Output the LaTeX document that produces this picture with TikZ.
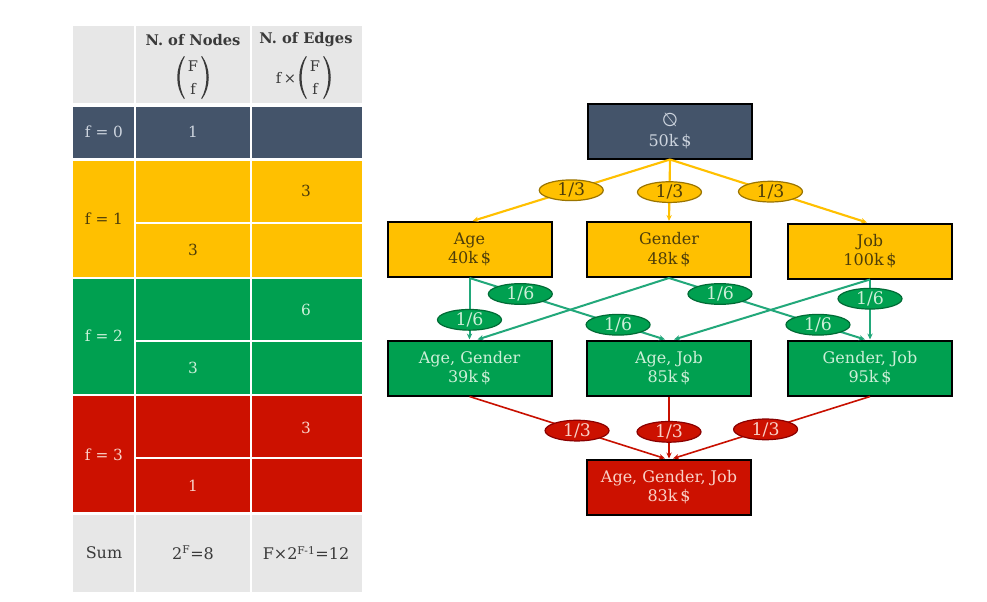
\documentclass[tikz,border=0pt]{standalone}
\usepackage{fontspec}
\usepackage{graphicx}
\setmainfont{DejaVu Serif}
\newfontfamily\symfont{DejaVu Sans}
\usetikzlibrary{shapes.geometric,arrows.meta,calc}
\definecolor{slate}{HTML}{44546A}
\definecolor{yel}{HTML}{FFC000}
\definecolor{grn}{HTML}{00A050}
\definecolor{rd}{HTML}{CC1100}
\definecolor{hdr}{HTML}{E7E7E7}
\definecolor{htext}{HTML}{3A3A3A}
\definecolor{ytext}{HTML}{4D3D0A}
\definecolor{gtext}{HTML}{CDEFD8}
\definecolor{rtext}{HTML}{F9D2C8}
\definecolor{stext}{HTML}{CDD4DE}
\definecolor{yline}{HTML}{FFC000}
\definecolor{gline}{HTML}{22A87A}
\definecolor{rline}{HTML}{C81000}
\definecolor{yborder}{HTML}{9A7400}
\definecolor{gborder}{HTML}{006B35}
\definecolor{rborder}{HTML}{8A0000}
\begin{document}
\begin{tikzpicture}[x=0.75pt,y=-0.75pt,
  cell/.style={inner sep=0pt,font=\fontsize{11.5}{11.5}\selectfont},
  hcell/.style={inner sep=0pt,text=htext,font=\fontsize{11}{11}\selectfont\bfseries},
  bcell/.style={inner sep=0pt,text=htext,font=\fontsize{11}{11}\selectfont},
  paren/.style={fill=htext},
  box/.style={draw=black,line width=1.5pt,minimum width=123pt,minimum height=41.25pt,
    align=center,inner sep=1pt,font=\fontsize{12}{14.5}\selectfont},
  lab/.style={ellipse,minimum width=48pt,minimum height=15.5pt,inner sep=0pt,
    line width=0.9pt,font=\fontsize{13}{13}\selectfont},
  ylab/.style={lab,fill=yel,draw=yborder,text=ytext},
  glab/.style={lab,fill=grn,draw=gborder,text=gtext},
  rlab/.style={lab,fill=rd,draw=rborder,text=rtext},
  arr/.style={-{Stealth[length=4.5pt,width=4pt]}},
  yedge/.style={arr,draw=yline,line width=1.6pt},
  gedge/.style={arr,draw=gline,line width=1.5pt},
  redge/.style={arr,draw=rline,line width=1.2pt},
  sep/.style={draw=white,line width=0.9pt}]
\useasboundingbox (0,0) rectangle (987,601);
\fill[white] (0,0) rectangle (987,601);
% ---------------- table ----------------
\fill[hdr] (73,26) rectangle (362,103);
\fill[slate] (73,107) rectangle (362,158);
\fill[yel] (73,161) rectangle (362,277);
\fill[grn] (73,279) rectangle (362,394);
\fill[rd] (73,396) rectangle (362,512);
\fill[hdr] (73,515) rectangle (362,592);
\draw[sep] (135,26) -- (135,592);
\draw[sep] (251,26) -- (251,592);
\draw[sep] (135,223) -- (362,223);
\draw[sep] (135,341) -- (362,341);
\draw[sep] (135,458) -- (362,458);
\draw[sep] (73,159.5) -- (362,159.5);
\draw[sep] (73,278) -- (362,278);
\draw[sep] (73,395) -- (362,395);
\node[hcell] (hn) at (193,40) {N. of Nodes};
\node[hcell] (he) at (306,40) {N. of Edges};
% binomial (F over f) in the nodes column
\fill[paren] (184,56) .. controls (175,68) and (175,87) .. (184,99)
  -- (184.8,98.4) .. controls (177.8,87) and (177.8,68) .. (184.8,56.6) -- cycle;
\fill[paren] (202,56) .. controls (211,68) and (211,87) .. (202,99)
  -- (201.2,98.4) .. controls (208.2,87) and (208.2,68) .. (201.2,56.6) -- cycle;
\node[bcell] (bnF) at (193,66) {F};
\node[bcell] (bnf) at (193,89) {f};
% f x binomial in the edges column
\node[bcell] (bex) at (286,78) {f\,×};
\fill[paren] (306,56) .. controls (297,68) and (297,87) .. (306,99)
  -- (306.8,98.4) .. controls (299.8,87) and (299.8,68) .. (306.8,56.6) -- cycle;
\fill[paren] (324,56) .. controls (333,68) and (333,87) .. (324,99)
  -- (323.2,98.4) .. controls (330.2,87) and (330.2,68) .. (323.2,56.6) -- cycle;
\node[bcell] (beF) at (315,66) {F};
\node[bcell] (bef) at (315,89) {f};
\node[cell,text=stext] (f0) at (104,132) {f = 0};
\node[cell,text=stext] (n0) at (193,132) {1};
\node[cell,text=ytext] (f1) at (104,219) {f = 1};
\node[cell,text=ytext] (e1) at (306,191) {3};
\node[cell,text=ytext] (n1) at (193,250) {3};
\node[cell,text=gtext] (f2) at (104,336) {f = 2};
\node[cell,text=gtext] (e2) at (306,310) {6};
\node[cell,text=gtext] (n2) at (193,368) {3};
\node[cell,text=rtext] (f3) at (104,455) {f = 3};
\node[cell,text=rtext] (e3) at (306,428) {3};
\node[cell,text=rtext] (n3) at (193,486) {1};
\node[cell,text=htext,font=\fontsize{12}{12}\selectfont] (sum) at (104,553) {Sum};
\node[cell,text=htext,font=\fontsize{12}{12}\selectfont] (sn) at (193,553) {2\textsuperscript{F}=8};
\node[cell,text=htext,font=\fontsize{12}{12}\selectfont] (se) at (306,553) {F×2\textsuperscript{F-1}=12};
% ---------------- lattice ----------------
\node[box,fill=slate,text=stext] (top) at (670,131) {{\symfont\fontsize{14}{13}\selectfont\reflectbox{∅}}\\50k\,\$};
\node[box,fill=yel,text=ytext] (age) at (469.5,249.5) {Age\\40k\,\$};
\node[box,fill=yel,text=ytext] (gen) at (669,249.5) {Gender\\48k\,\$};
\node[box,fill=yel,text=ytext] (job) at (870,251) {Job\\100k\,\$};
\node[box,fill=grn,text=gtext] (ag) at (469.5,368) {Age, Gender\\39k\,\$};
\node[box,fill=grn,text=gtext] (aj) at (669,368) {Age, Job\\85k\,\$};
\node[box,fill=grn,text=gtext] (gj) at (870,368) {Gender, Job\\95k\,\$};
\node[box,fill=rd,text=rtext] (all) at (669,487) {Age, Gender, Job\\83k\,\$};
% yellow edges
\draw[yedge] (top.south) -- node[ylab,pos=0.5] (l1) {1/3} ($(age.north)+(3,0)$);
\draw[yedge] (top.south) -- node[ylab,pos=0.53] (l2) {1/3} (gen.north);
\draw[yedge] (top.south) -- node[ylab,pos=0.51] (l3) {1/3} ($(job.north)+(-3,0)$);
% green edges
\draw[gedge] (gen.south) -- ($(ag.north)+(8,0)$);
\draw[gedge] (job.south) -- ($(aj.north)+(5,0)$);
\draw[gedge] (age.south) -- node[glab,pos=0.68] (l4) {1/6} (ag.north);
\draw[gedge] (age.south) -- node[glab,pos=0.26] (l5) {1/6} node[glab,pos=0.76] (l6) {1/6} ($(aj.north)+(-4,0)$);
\draw[gedge] (gen.south) -- node[glab,pos=0.26] (l7) {1/6} node[glab,pos=0.76] (l8) {1/6} ($(gj.north)+(-5,0)$);
\draw[gedge] (job.south) -- node[glab,pos=0.32] (l9) {1/6} (gj.north);
% red edges
\draw[redge] (ag.south) -- node[rlab,pos=0.55] (l10) {1/3} ($(all.north)+(-4,0)$);
\draw[redge] (aj.south) -- node[rlab,pos=0.57] (l11) {1/3} (all.north);
\draw[redge] (gj.south) -- node[rlab,pos=0.53] (l12) {1/3} ($(all.north)+(4,0)$);
\end{tikzpicture}
\end{document}
